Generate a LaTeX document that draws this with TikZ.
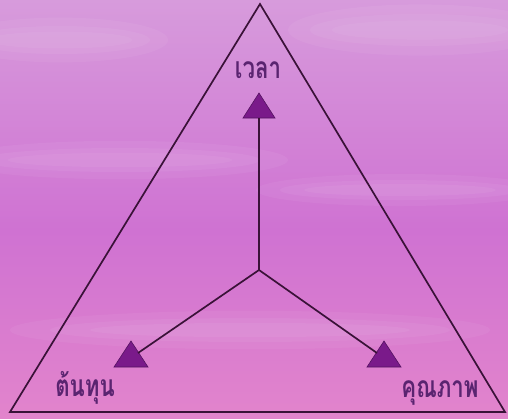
\documentclass[tikz,border=0pt]{standalone}
\usepackage{fontspec}
\newfontfamily\thaifont[Script=Thai]{Loma}
\newcommand{\narrowtxt}[1]{\scalebox{0.74}[1]{#1}}
\begin{document}
\begin{tikzpicture}[x=1pt,y=-1pt,
  edge/.style={draw=lineclr,line width=1.7pt},
  head/.style={fill=headclr,draw=headclr!70!black,line width=0.6pt},
  lbl/.style={text=textclr,font=\thaifont\bfseries\fontsize{30}{32}\selectfont,inner sep=0pt,anchor=base}]
\definecolor{lineclr}{HTML}{3A1238}
\definecolor{headclr}{HTML}{7A1A8A}
\definecolor{textclr}{HTML}{5A2470}
\definecolor{skytop}{HTML}{D79BDC}
\definecolor{skymid}{HTML}{CF72D2}
\definecolor{skybot}{HTML}{E284CC}
\useasboundingbox (0,0) rectangle (508,418);
\shade[top color=skytop,bottom color=skymid] (0,0) rectangle (508,230);
\shade[top color=skymid,bottom color=skybot] (0,230) rectangle (508,418);
% soft cloud streaks
\foreach \cx/\cy/\rx/\ry in {60/40/90/14, 420/30/110/16, 120/160/140/12, 400/190/120/10, 250/330/200/12}{
  \fill[white,opacity=0.05] (\cx,\cy) circle[x radius=1.2*\rx, y radius=1.6*\ry];
  \fill[white,opacity=0.05] (\cx,\cy) circle[x radius=\rx, y radius=\ry];
  \fill[white,opacity=0.05] (\cx,\cy) circle[x radius=0.8*\rx, y radius=0.6*\ry];
}
% outer triangle
\coordinate (A) at (260,4);
\coordinate (B) at (10,412);
\coordinate (C) at (505,412);
\draw[edge,line join=miter] (A) -- (B) -- (C) -- cycle;
% centre
\coordinate (O) at (259,270);
% arrowheads
\path[head] (259,93) -- (275,118) -- (243,118) -- cycle;
\path[head] (131,341) -- (148,367) -- (114,367) -- cycle;
\path[head] (384,341) -- (401,367) -- (367,367) -- cycle;
\coordinate (Tu) at (259,118);
\coordinate (Tl) at (138,353);
\coordinate (Tr) at (377,353);
\draw[edge] (O) -- (Tu);
\draw[edge] (O) -- (Tl);
\draw[edge] (O) -- (Tr);
% labels
\node[lbl] (time) at (258,78) {\narrowtxt{เวลา}};
\node[lbl] (cost) at (85,396) {\narrowtxt{ต้นทุน}};
\node[lbl] (qual) at (440,397) {\narrowtxt{คุณภาพ}};
\end{tikzpicture}
\end{document}
